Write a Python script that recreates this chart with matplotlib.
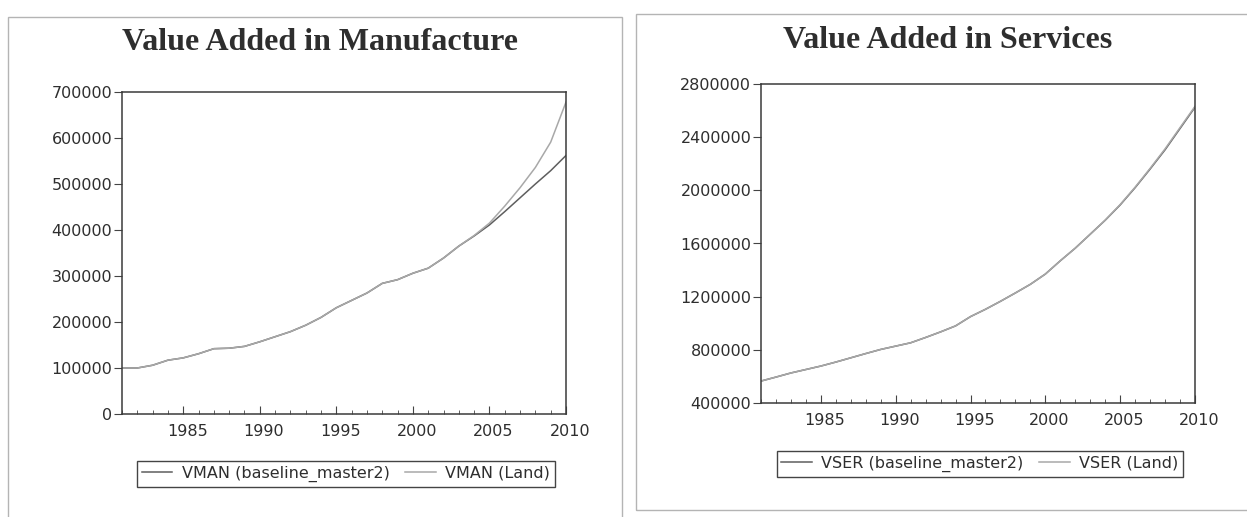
import matplotlib
matplotlib.use('Agg')
import matplotlib.pyplot as plt
import matplotlib.transforms as mtransforms
from matplotlib.patches import Rectangle
from matplotlib.ticker import MultipleLocator, FuncFormatter

plt.rcParams['font.family'] = ['DejaVu Sans']

# ========== data ==========
years = list(range(1981, 2011))

vman_base = [100000, 100000, 106000, 117000, 122000, 131000, 142000, 143000, 147000, 157000,
             168000, 179000, 193000, 210000, 231000, 247000, 263000, 284000, 292000, 306000,
             317000, 339000, 365000, 387000, 411000, 440000, 470000, 500000, 529000, 562000]
vman_land = [100000, 100000, 106000, 117000, 122000, 131000, 142000, 143000, 147000, 157000,
             168000, 179000, 193000, 210000, 231000, 247000, 263000, 284000, 292000, 306000,
             317000, 339000, 365000, 388000, 415000, 452000, 492000, 536000, 591000, 678000]

vser_base = [565000, 595000, 626000, 652000, 678000, 708000, 740000, 772000, 803000, 828000,
             853000, 893000, 935000, 980000, 1050000, 1105000, 1165000, 1228000, 1293000, 1370000,
             1470000, 1565000, 1670000, 1775000, 1890000, 2020000, 2160000, 2305000, 2465000, 2625000]
vser_land = [565000, 595000, 626000, 652000, 678000, 708000, 740000, 772000, 803000, 828000,
             853000, 893000, 935000, 980000, 1050000, 1105000, 1165000, 1228000, 1293000, 1370000,
             1470000, 1565000, 1670000, 1776000, 1893000, 2024000, 2165000, 2312000, 2472000, 2632000]

c_base = '#5e5e5e'
c_land = '#a8a8a8'
txt = '#2e2e2e'
W, H = 1247, 517

fig = plt.figure(figsize=(12.47, 5.17), dpi=100)

# panel frames (light gray boxes of the scan)
fig.patches.append(Rectangle((8 / W, -0.01), 614 / W, 1 - 17 / H + 0.01,
                             transform=fig.transFigure, fill=False, ec='#b4b4b4', lw=1))
fig.patches.append(Rectangle((636 / W, 7 / H), 620 / W, 1 - 21 / H,
                             transform=fig.transFigure, fill=False, ec='#b4b4b4', lw=1))


def style_axes(ax, ymin, ymax, ystep):
    ax.set_xlim(1981, 2010)
    ax.set_ylim(ymin, ymax)
    ax.xaxis.set_major_locator(MultipleLocator(5))
    ax.xaxis.set_minor_locator(MultipleLocator(1))
    ax.yaxis.set_major_locator(MultipleLocator(ystep))
    ax.tick_params(axis='x', which='major', direction='in', length=6, pad=7,
                   labelsize=11.5, labelcolor=txt, color='#444')
    ax.tick_params(axis='x', which='minor', direction='in', length=3, color='#444')
    ax.tick_params(axis='y', which='major', direction='out', length=6, pad=1,
                   labelsize=11.5, labelcolor=txt, color='#444')
    ax.yaxis.set_major_formatter(FuncFormatter(lambda v, p: f'{int(v)}'))
    # year labels sit a little right of their ticks in the scan
    shift = mtransforms.ScaledTranslation(4 / 100, 0, fig.dpi_scale_trans)
    for lab in ax.get_xticklabels():
        lab.set_transform(lab.get_transform() + shift)
    for s in ax.spines.values():
        s.set_color('#3a3a3a')
        s.set_linewidth(1.1)


leg_kw = dict(loc='center', ncol=2, fontsize=11.5, fancybox=False, edgecolor='#444',
              framealpha=1, handlelength=1.9, columnspacing=1.0, borderpad=0.3,
              handletextpad=0.6, labelcolor=txt)

# ========== left panel ==========
ax1 = fig.add_axes([122 / W, 1 - 414 / H, 444 / W, 322 / H])
ax1.plot(years, vman_base, color=c_base, lw=1.1, label='VMAN (baseline_master2)')
ax1.plot(years, vman_land, color=c_land, lw=1.1, label='VMAN (Land)')
style_axes(ax1, 0, 700000, 100000)
fig.text(320 / W, 1 - 42 / H, 'Value Added in Manufacture', ha='center', va='center',
         family='Liberation Serif', fontweight='bold', fontsize=23, color=txt)
fig.legend(*ax1.get_legend_handles_labels(), bbox_to_anchor=(346 / W, 1 - 474 / H), **leg_kw)

# ========== right panel ==========
ax2 = fig.add_axes([761 / W, 1 - 403 / H, 434 / W, 319 / H])
ax2.plot(years, vser_base, color=c_base, lw=1.1, label='VSER (baseline_master2)')
ax2.plot(years, vser_land, color=c_land, lw=1.1, label='VSER (Land)')
style_axes(ax2, 400000, 2800000, 400000)
fig.text(948 / W, 1 - 40 / H, 'Value Added in Services', ha='center', va='center',
         family='Liberation Serif', fontweight='bold', fontsize=23, color=txt)
fig.legend(*ax2.get_legend_handles_labels(), bbox_to_anchor=(980 / W, 1 - 464 / H), **leg_kw)

plt.savefig('out.png', dpi=100)
